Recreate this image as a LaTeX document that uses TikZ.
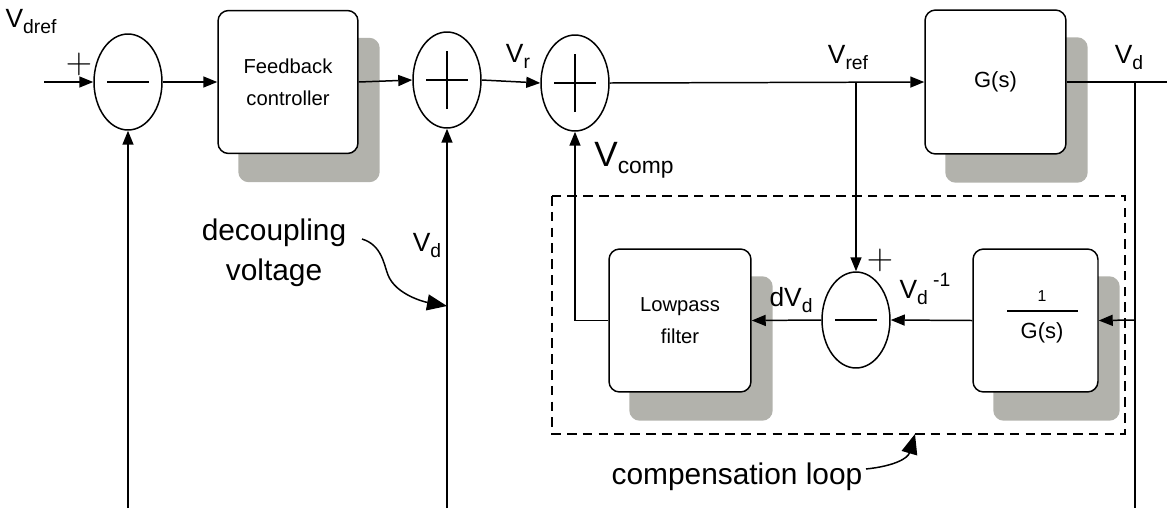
\documentclass[tikz,border=0pt]{standalone}
\usepackage{fontspec}
\setmainfont{Liberation Sans}
\usetikzlibrary{shapes.geometric,arrows.meta,backgrounds}
\definecolor{shadowgray}{RGB}{178,178,172}
\newcommand{\vsb}[2]{{\fontsize{15}{15}\selectfont #1}\raisebox{-0.65ex}{\fontsize{11}{11}\selectfont #2}}
\newcommand{\plussign}{{\fontsize{22}{22}\selectfont$+$}}
\tikzset{
 ln/.style={line width=0.85pt},
 arr/.style={ln,-{Triangle[length=0.28cm,width=0.22cm]}},
 bigarr/.style={ln,-{Triangle[length=0.4cm,width=0.32cm]}},
 sumnode/.style={ellipse,draw,ln,fill=white,minimum width=1.36cm,minimum height=1.92cm,inner sep=0pt},
 blk/.style={draw,ln,rounded corners=6pt,fill=white,align=center,font=\fontsize{11.5}{18}\selectfont,inner sep=0pt},
 shd/.style={fill=shadowgray,rounded corners=6pt},
 lbl/.style={inner sep=0pt},
 bigtext/.style={font=\fontsize{17}{22.7}\selectfont,align=center,inner sep=0pt},
 dsh/.style={line width=0.85pt,dash pattern=on 5.5pt off 3.5pt},
}
\begin{document}
\begin{tikzpicture}[x=0.02cm,y=-0.02cm]
\useasboundingbox (0,0) rectangle (1167,508);
% nodes
\node[sumnode] (s1) at (128,82) {};
\node[blk,minimum width=2.8cm,minimum height=2.86cm] (fb) at (288,82) {Feedback\\controller};
\node[sumnode] (s2) at (447,80) {};
\node[sumnode] (s3) at (575,83) {};
\node[blk,font=\fontsize{12.5}{12.5}\selectfont,minimum width=2.82cm,minimum height=2.88cm] (gs) at (995.5,82) {G(s)};
\node[blk,minimum width=2.84cm,minimum height=2.86cm] (lp) at (680,320.5) {Lowpass\\filter};
\node[sumnode,minimum width=1.36cm] (s4) at (856,320) {};
\node[blk,minimum width=2.5cm,minimum height=2.86cm] (ig) at (1035.5,320.5) {};
\node[lbl,font=\fontsize{9}{9}\selectfont] (ig1) at (1042,296) {1};
\node[lbl,font=\fontsize{12.5}{12.5}\selectfont] (igg) at (1042,333) {G(s)};
\draw[ln] (1007,311) -- (1078,311);
% shadows
\begin{scope}[on background layer]
\foreach \b in {fb,gs,lp,ig}
  \fill[shd] ([shift={(21,28)}]\b.south west) rectangle ([shift={(21,28)}]\b.north east);
\end{scope}
% signs inside summing junctions
\draw[ln] ([xshift=-0.42cm]s1.center) -- ([xshift=0.42cm]s1.center);
\draw[ln] ([xshift=-0.42cm]s2.center) -- ([xshift=0.42cm]s2.center);
\draw[ln] ([yshift=-0.58cm]s2.center) -- ([yshift=0.58cm]s2.center);
\draw[ln] ([xshift=-0.42cm]s3.center) -- ([xshift=0.42cm]s3.center);
\draw[ln] ([yshift=-0.58cm]s3.center) -- ([yshift=0.58cm]s3.center);
\draw[ln] ([xshift=-0.42cm]s4.center) -- ([xshift=0.42cm]s4.center);
% coordinates
\coordinate (in) at (44,82);
\coordinate (out) at (1167,82);
\coordinate (vr) at (856,82);
\coordinate (vd) at (1135,82);
\coordinate (vdm) at (1135,320);
\coordinate (vdb) at (1135,508);
\coordinate (b1) at (128,508);
\coordinate (b2) at (447,508);
% main path
\draw[arr] (in) -- (s1.west);
\draw[arr] (s1.east) -- (fb.west);
\draw[arr] (fb.east) -- (s2.west);
\draw[arr] (s2.east) -- (s3.west);
\draw[arr] (s3.east) -- (gs.west);
\draw[ln] (gs.east) -- (out);
\draw[arr] (vr) -- (s4.north);
\draw[ln] (vd) -- (vdb);
\draw[arr] (vdm) -- (ig.east);
\draw[arr] (ig.west) -- (s4.east);
\draw[arr] (s4.west) -- (lp.east);
\draw[arr] (lp.west) -| (s3.south);
\draw[arr] (b1) -- (s1.south);
\draw[arr] (b2) -- (s2.south);
% dashed compensation box
\draw[dsh] (552,196) rectangle (1125,434);
% labels
\node[lbl] (lvdref) at (31,22) {\vsb{V}{dref}};
\node[lbl] (p1) at (79,64) {\plussign};
\node[lbl] (lvr) at (518,56) {\vsb{V}{r}};
\node[lbl] (lvc) at (634,160) {{\fontsize{20}{20}\selectfont V}\raisebox{-0.8ex}{\fontsize{13}{13}\selectfont comp}};
\node[lbl] (lvref) at (848,58) {\vsb{V}{ref}};
\node[lbl] (lvd) at (1129,58) {\vsb{V}{d}};
\node[lbl] (lvd2) at (427,246) {\vsb{V}{d}};
\node[lbl] (ldv) at (791,300) {\vsb{dV}{d}};
\node[lbl] (p2) at (880,260) {\plussign};
\node[lbl] (lvdi) at (925,289) {\vsb{V}{d}\hspace{3pt}\raisebox{1.3ex}{\fontsize{11}{11}\selectfont -1}};
\node[bigtext] (dec) at (274,253) {decoupling\\voltage};
\node[bigtext] (cl) at (737,477) {compensation loop};
% annotation arrows
\coordinate (dc0) at (362,239);
\coordinate (dc1) at (447,306);
\draw[bigarr] (dc0) .. controls (382,245) and (384,265) .. (388,275) .. controls (396,295) and (425,302) .. (dc1);
\coordinate (cl0) at (866,469);
\coordinate (cl1) at (915,434);
\draw[bigarr] (cl0) .. controls (895,466) and (908,458) .. (cl1);
\end{tikzpicture}
\end{document}
